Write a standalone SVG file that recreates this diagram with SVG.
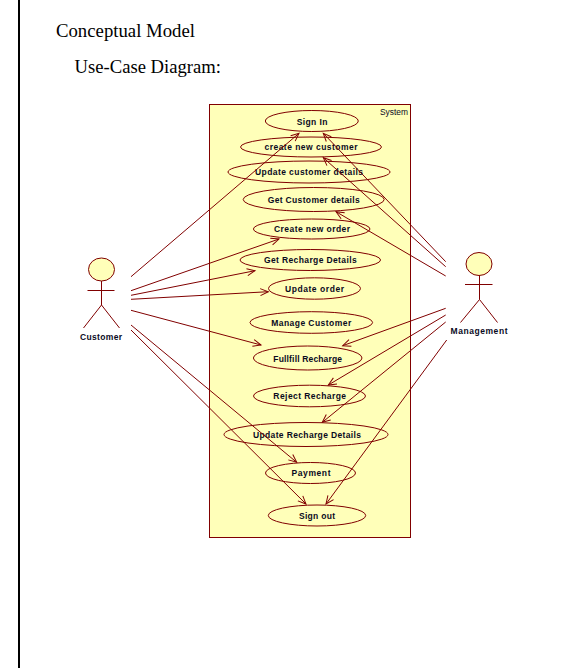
<svg xmlns="http://www.w3.org/2000/svg" width="582" height="668" viewBox="0 0 582 668">
<style>
.page{font-family:"Liberation Serif","Times New Roman",serif;fill:#000;font-size:18.7px}
.s{fill:#ffffb9;stroke:#800000;stroke-width:1}
.l{stroke:#800000;stroke-width:1;fill:none}
.t{font-family:"Liberation Sans",Arial,sans-serif;font-size:8.5px;font-weight:bold;fill:#0a0a1e;text-anchor:middle}
.c{stroke:#800000;stroke-width:1;fill:none;marker-end:url(#a)}
</style>
<defs>
<marker id="a" markerUnits="userSpaceOnUse" markerWidth="12" markerHeight="12" refX="10" refY="6" orient="auto" overflow="visible">
<path d="M2,2.5 L10,6 L2,9.5" fill="none" stroke="#800000" stroke-width="1"/>
</marker>
</defs>
<rect width="582" height="668" fill="#fff"/>
<rect x="18" y="0" width="2" height="668" fill="#000"/>
<text class="page" x="56" y="37" textLength="139" lengthAdjust="spacingAndGlyphs">Conceptual Model</text>
<text class="page" x="74.5" y="73" textLength="146.5" lengthAdjust="spacingAndGlyphs">Use-Case Diagram:</text>
<g id="system">
<rect class="s" x="209.5" y="104.5" width="201" height="433"/>
<text x="380" y="115" textLength="28" lengthAdjust="spacingAndGlyphs" style="font-family:'Liberation Sans',Arial,sans-serif;font-size:8.5px;fill:#0a0a1e">System</text>
</g>
<g id="uc-sign-in"><ellipse class="s" cx="311.8" cy="121" rx="46.5" ry="10.5"/><text class="t" x="312" y="125" textLength="30.7">Sign In</text></g>
<g id="uc-create-customer"><ellipse class="s" cx="311" cy="147" rx="70.5" ry="10"/><text class="t" x="311" y="150" textLength="93">create new customer</text></g>
<g id="uc-update-customer"><ellipse class="s" cx="309" cy="172" rx="81" ry="11"/><text class="t" x="309" y="175" textLength="108">Update customer details</text></g>
<g id="uc-get-customer"><ellipse class="s" cx="313.7" cy="199.5" rx="70.5" ry="12"/><text class="t" x="313.7" y="203" textLength="92">Get Customer details</text></g>
<g id="uc-create-order"><ellipse class="s" cx="311.7" cy="229" rx="58.3" ry="10"/><text class="t" x="312" y="232" textLength="76">Create new order</text></g>
<g id="uc-get-recharge"><ellipse class="s" cx="310.3" cy="260" rx="70.3" ry="10.5"/><text class="t" x="310.3" y="263" textLength="92.7">Get Recharge Details</text></g>
<g id="uc-update-order"><ellipse class="s" cx="314.5" cy="288.5" rx="46" ry="10.7"/><text class="t" x="314.5" y="292" textLength="59">Update order</text></g>
<g id="uc-manage-customer"><ellipse class="s" cx="311.3" cy="322.5" rx="61.3" ry="10.8"/><text class="t" x="311.2" y="326" textLength="80">Manage Customer</text></g>
<g id="uc-fullfill"><ellipse class="s" cx="307.7" cy="358" rx="54.3" ry="12"/><text class="t" x="307.7" y="362" textLength="68.7">Fullfill Recharge</text></g>
<g id="uc-reject"><ellipse class="s" cx="309.5" cy="396" rx="56" ry="10.8"/><text class="t" x="309.7" y="399" textLength="72.7">Reject Recharge</text></g>
<g id="uc-update-recharge"><ellipse class="s" cx="306" cy="434.5" rx="82" ry="12"/><text class="t" x="307" y="438" textLength="108">Update Recharge Details</text></g>
<g id="uc-payment"><ellipse class="s" cx="310.5" cy="473" rx="45" ry="10.5"/><text class="t" x="311" y="476" textLength="39">Payment</text></g>
<g id="uc-sign-out"><ellipse class="s" cx="317" cy="515.5" rx="48.7" ry="10.5"/><text class="t" x="317" y="519" textLength="36">Sign out</text></g>
<g id="actor-customer">
<ellipse class="s" cx="101.5" cy="269.5" rx="13" ry="11.5"/>
<path class="l" d="M101.5,281 V305 M87.5,290.5 H114.5 M83.5,328 L101.5,305 L119.5,328"/>
<text class="t" x="101" y="340" textLength="42">Customer</text>
</g>
<g id="actor-management">
<ellipse class="s" cx="479" cy="264" rx="13" ry="11.5"/>
<path class="l" d="M479.5,275.5 V299.5 M465,284.5 H492.5 M460.5,322.5 L479.5,299.5 L497.5,322.5"/>
<text class="t" x="479" y="334" textLength="57">Management</text>
</g>
<g id="connectors">
<line class="c" x1="131" y1="276.7" x2="299" y2="133.3"/>
<line class="c" x1="131" y1="290.7" x2="279" y2="239"/>
<line class="c" x1="131" y1="295.3" x2="255" y2="270.7"/>
<line class="c" x1="131" y1="299.3" x2="268.3" y2="291.7"/>
<line class="c" x1="131" y1="310.3" x2="261" y2="345"/>
<line class="c" x1="131" y1="325" x2="296.7" y2="462.3"/>
<line class="c" x1="131" y1="330" x2="306" y2="504"/>
<line class="c" x1="445.7" y1="261.7" x2="323.3" y2="133.3"/>
<line class="c" x1="445.7" y1="266.7" x2="323.3" y2="157.7"/>
<line class="c" x1="445.7" y1="276" x2="336" y2="211.7"/>
<line class="c" x1="445.7" y1="308.3" x2="342.7" y2="345.7"/>
<line class="c" x1="445.7" y1="315" x2="328.3" y2="385"/>
<line class="c" x1="445.7" y1="322" x2="322.3" y2="422.3"/>
<line class="c" x1="446.7" y1="340" x2="326" y2="504"/>
</g>
</svg>
